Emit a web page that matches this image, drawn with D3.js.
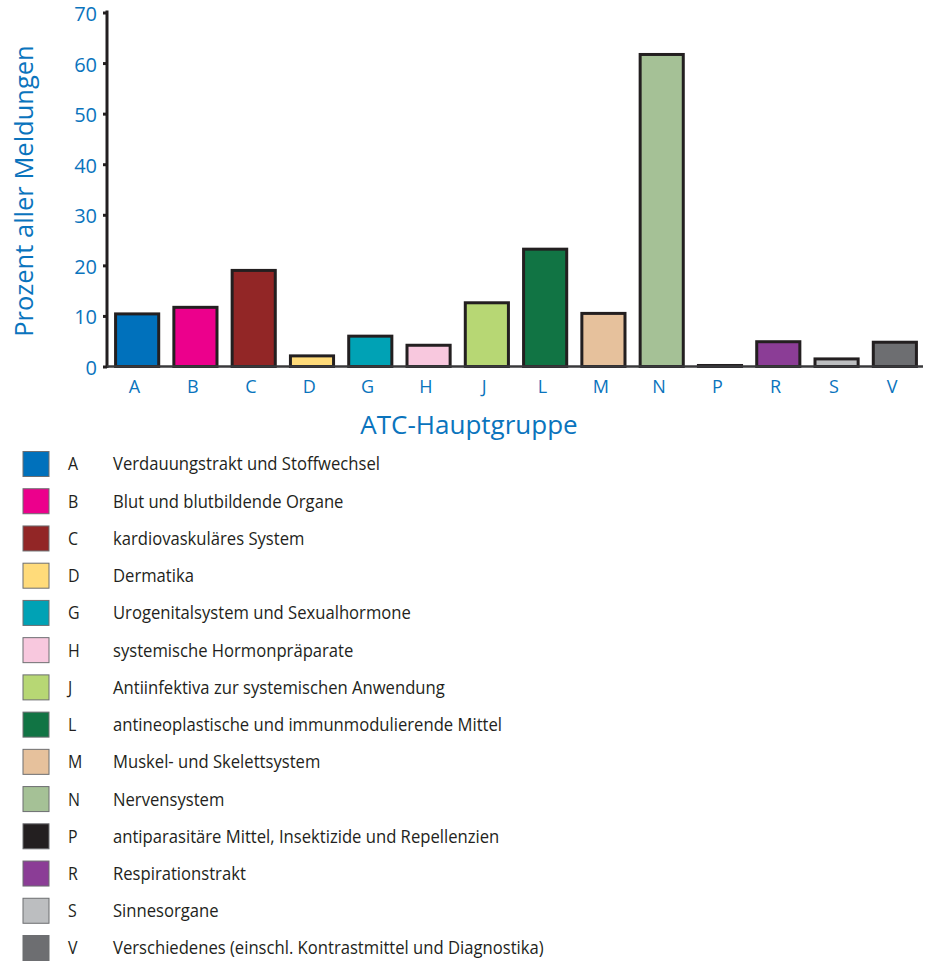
<!DOCTYPE html>
<html>
<head>
<meta charset="utf-8">
<script src="https://cdn.jsdelivr.net/npm/d3@7"></script>
<style>
  html, body { margin: 0; padding: 0; background: #fff; }
  svg { display: block; }
</style>
</head>
<body>
<svg id="chart" width="925" height="963"></svg>
<script>
// ATC main groups, their share of all reports (%) and legend descriptions
const categories = ["A","B","C","D","G","H","J","L","M","N","P","R","S","V"];
const values = [10.4, 11.7, 19.0, 2.1, 6.0, 4.2, 12.6, 23.2, 10.5, 61.7, 0.2, 4.9, 1.5, 4.8];
const colors = ["#0071bc","#ec008c","#922626","#ffdb7a","#00a2b5","#f8c8de","#b7d774","#117444","#e6c19c","#a5c196","#231f20","#8b3d96","#bcbec0","#6d6e71"];
const descriptions = [
  "Verdauungstrakt und Stoffwechsel",
  "Blut und blutbildende Organe",
  "kardiovaskuläres System",
  "Dermatika",
  "Urogenitalsystem und Sexualhormone",
  "systemische Hormonpräparate",
  "Antiinfektiva zur systemischen Anwendung",
  "antineoplastische und immunmodulierende Mittel",
  "Muskel- und Skelettsystem",
  "Nervensystem",
  "antiparasitäre Mittel, Insektizide und Repellenzien",
  "Respirationstrakt",
  "Sinnesorgane",
  "Verschiedenes (einschl. Kontrastmittel und Diagnostika)"
];
const yTicks = [0, 10, 20, 30, 40, 50, 60, 70];

const blue = "#0a74bd";
const ink = "#231f20";
const font = "'Open Sans', 'Noto Sans', sans-serif";

const svg = d3.select("#chart");

// plot geometry
const plotLeft = 107, plotRight = 923, plotTop = 12.5, plotBottom = 366.5;

const x = d3.scaleBand()
  .domain(categories)
  .range([108, 924])
  .paddingInner(0.26)
  .paddingOuter(0.13);

const y = d3.scaleLinear().domain([0, 70]).range([plotBottom, plotTop]);

// bars
svg.append("g").selectAll("rect")
  .data(categories.map((c, i) => ({ c, v: values[i], col: colors[i] })))
  .join("rect")
  .attr("x", d => x(d.c))
  .attr("width", x.bandwidth())
  .attr("y", d => y(d.v))
  .attr("height", d => y(0) - y(d.v))
  .attr("fill", d => d.col)
  .attr("stroke", ink)
  .attr("stroke-width", 3);

// y axis
const yAxis = svg.append("g")
  .attr("transform", `translate(${plotLeft},0)`)
  .call(d3.axisLeft(y).tickValues(yTicks).tickSize(4).tickPadding(6));
yAxis.select(".domain").attr("stroke", ink).attr("stroke-width", 3)
  .attr("d", `M0,${plotTop - 2}V${plotBottom + 1.5}`);
yAxis.selectAll(".tick line").attr("stroke", ink).attr("stroke-width", 3);
yAxis.selectAll(".tick text")
  .attr("fill", blue)
  .attr("font-family", font)
  .attr("font-size", 20)
  .attr("font-weight", 500)
  .attr("dy", "0.4em");

// x axis baseline and labels
const xAxis = svg.append("g")
  .attr("transform", `translate(0,${plotBottom})`)
  .call(d3.axisBottom(x).tickSize(0).tickPadding(14));
xAxis.select(".domain").attr("stroke", "#3a3a3c").attr("stroke-width", 2.5)
  .attr("d", `M${plotLeft},0H${plotRight}`);
xAxis.selectAll(".tick text")
  .attr("fill", blue)
  .attr("font-family", font)
  .attr("font-size", 18)
  .attr("dx", "-0.15em");

// axis titles
svg.append("text")
  .attr("transform", `translate(33,191) rotate(-90)`)
  .attr("text-anchor", "middle")
  .attr("fill", blue)
  .attr("font-family", font)
  .attr("font-size", 25.5)
  .text("Prozent aller Meldungen");

svg.append("text")
  .attr("x", 469)
  .attr("y", 434)
  .attr("text-anchor", "middle")
  .attr("fill", blue)
  .attr("font-family", font)
  .attr("font-size", 26)
  .text("ATC-Hauptgruppe");

// legend
const legendY = d3.scalePoint().domain(categories).range([464, 948]);
const rows = svg.append("g").selectAll("g")
  .data(categories.map((c, i) => ({ c, col: colors[i], desc: descriptions[i] })))
  .join("g")
  .attr("transform", d => `translate(0,${legendY(d.c)})`);

rows.append("rect")
  .attr("x", 23).attr("y", -12.5)
  .attr("width", 26).attr("height", 25)
  .attr("fill", d => d.col)
  .attr("stroke", "#6d6e71")
  .attr("stroke-width", 1);

rows.append("text")
  .attr("transform", "translate(68,0) scale(0.86,1)")
  .attr("dy", "0.35em")
  .attr("fill", ink)
  .attr("font-family", font)
  .attr("font-size", 18.5)
  .text(d => d.c);

rows.append("text")
  .attr("transform", "translate(113,0) scale(0.9,1)")
  .attr("dy", "0.35em")
  .attr("fill", ink)
  .attr("font-family", font)
  .attr("font-size", 18.5)
  .text(d => d.desc);
</script>
</body>
</html>
